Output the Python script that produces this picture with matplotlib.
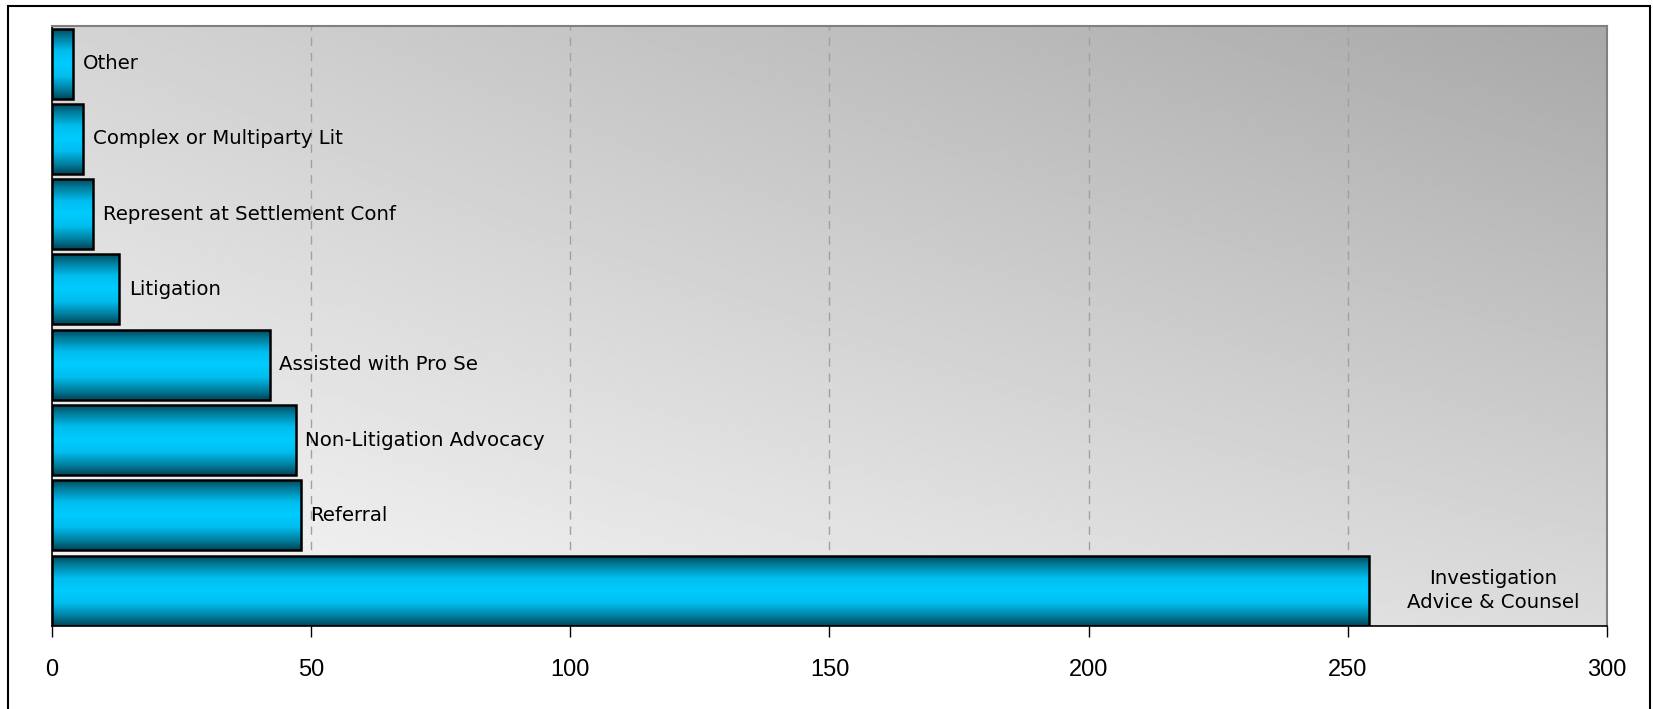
import numpy as np
import matplotlib
matplotlib.use("Agg")
import matplotlib.pyplot as plt
from matplotlib.colors import LinearSegmentedColormap
from matplotlib.patches import Rectangle

# data, top to bottom as drawn
categories = ["Other", "Complex or Multiparty Lit", "Represent at Settlement Conf",
              "Litigation", "Assisted with Pro Se", "Non-Litigation Advocacy",
              "Referral", "Investigation\nAdvice & Counsel"]
counts = [4, 6, 8, 13, 42, 47, 48, 254]
xticks = [0, 50, 100, 150, 200, 250, 300]

fig = plt.figure(figsize=(16.53, 7.09), dpi=100)
ax = fig.add_axes([52 / 1653, 1 - 626 / 709, (1607 - 52) / 1653, (626 - 26) / 709])

# outer frame of the chart
fig.patches.append(Rectangle((8 / 1653, -0.05), (1650 - 8) / 1653, 1 - 6 / 709 + 0.05,
                             transform=fig.transFigure, fill=False,
                             edgecolor="black", linewidth=1.5))

# background: diagonal grey gradient (light bottom-left, dark top-right)
gx, gy = np.meshgrid(np.linspace(0, 1, 300), np.linspace(0, 1, 300))
corners = {"bl": 248, "tl": 212, "br": 220, "tr": 168}
bg = (corners["bl"] * (1 - gx) * (1 - gy) + corners["br"] * gx * (1 - gy)
      + corners["tl"] * (1 - gx) * gy + corners["tr"] * gx * gy) / 255.0
ax.imshow(bg, cmap="gray", vmin=0, vmax=1, origin="lower", aspect="auto",
          extent=[0, 1, 0, 1], transform=ax.transAxes, zorder=0, interpolation="bilinear")

ypos = np.arange(len(categories))[::-1]
bars = ax.barh(ypos, counts, height=0.93, color="none", edgecolor="black",
               linewidth=1.8, zorder=3)

# cyan tube gradient inside each bar
bar_cmap = LinearSegmentedColormap.from_list(
    "tube", [(0.0, "#004458"), (0.12, "#007896"), (0.32, "#00bdee"), (0.5, "#00ccff"),
             (0.68, "#00bdee"), (0.88, "#007896"), (1.0, "#004458")])
grad = np.linspace(0, 1, 256).reshape(-1, 1)
for b in bars:
    x0, y0 = b.get_x(), b.get_y()
    w, h = b.get_width(), b.get_height()
    im = ax.imshow(grad, cmap=bar_cmap, aspect="auto", origin="lower",
                   extent=[x0, x0 + w, y0, y0 + h], zorder=2, interpolation="bilinear")
    im.set_clip_path(b)

ax.set_xlim(0, 300)
ax.set_ylim(-0.47, 7.5)

# labels next to the bars
for y, v, name in zip(ypos, counts, categories):
    if v > 200:
        ax.text((v + 300) / 2 + 1, y, name, ha="center", va="center",
                fontsize=14.2, family="DejaVu Sans", zorder=4, linespacing=1.3)
    else:
        ax.annotate(name, (v, y), xytext=(7, 0), textcoords="offset points",
                    ha="left", va="center", fontsize=14.2, family="DejaVu Sans", zorder=4)

ax.set_xticks(xticks)
ax.set_xticklabels([str(t) for t in xticks], fontsize=17, family="Liberation Sans")
ax.set_yticks([])
ax.tick_params(axis="x", direction="out", length=8, width=1, pad=16)
ax.grid(axis="x", linestyle=(0, (6, 5)), color="#a0a0a0", linewidth=1, zorder=1)
ax.set_axisbelow(True)

for side in ["top", "right"]:
    ax.spines[side].set_color("#808080")
    ax.spines[side].set_linewidth(1.5)
for side in ["left", "bottom"]:
    ax.spines[side].set_color("black")
    ax.spines[side].set_linewidth(1.2)

fig.savefig("out.png", dpi=100)
